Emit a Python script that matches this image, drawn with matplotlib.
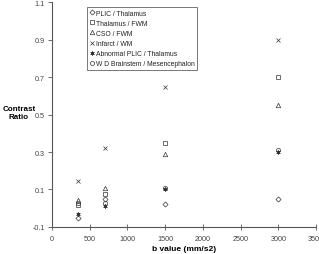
import matplotlib.pyplot as plt

b_values = [350, 700, 1500, 3000]

plic_thalamus = [-0.05, 0.05, 0.02, 0.05]
thalamus_fwm = [0.015, 0.075, 0.35, 0.70]
cso_fwm = [0.045, 0.11, 0.29, 0.55]
infarct_wm = [0.145, 0.32, 0.645, 0.90]
abnormal_plic = [-0.03, 0.01, 0.10, 0.30]
wd_brainstem = [0.03, 0.03, 0.11, 0.31]

series = [
    ("PLIC / Thalamus", plic_thalamus, "D", 2.6),
    ("Thalamus / FWM", thalamus_fwm, "s", 3.0),
    ("CSO / FWM", cso_fwm, "^", 3.2),
    ("Infarct / WM", infarct_wm, "x", 3.0),
    ("Abnormal PLIC / Thalamus", abnormal_plic, (6, 2, 0), 3.0),
    ("W D Brainstem / Mesencephalon", wd_brainstem, "o", 3.0),
]

plt.rcParams["font.family"] = ["Liberation Sans", "DejaVu Sans"]

fig = plt.figure(figsize=(3.19, 2.55), dpi=100)
ax = fig.add_axes([0.163, 0.106, 0.828, 0.882])

for label, values, marker, size in series:
    ax.plot(b_values, values, linestyle="none", marker=marker, markersize=size,
            markerfacecolor="none", markeredgecolor="#333333",
            markeredgewidth=0.5, color="#333333", label=label)

ax.set_xlim(0, 3500)
ax.set_ylim(-0.1, 1.1)
ax.set_xticks(range(0, 3501, 500))
ax.set_yticks([-0.1, 0.1, 0.3, 0.5, 0.7, 0.9, 1.1])
ax.set_yticklabels(["-0.1", "0.1", "0.3", "0.5", "0.7", "0.9", "1.1"])

for side in ("top", "right"):
    ax.spines[side].set_visible(False)
for side in ("left", "bottom"):
    ax.spines[side].set_color("#555555")
    ax.spines[side].set_linewidth(0.8)

ax.tick_params(axis="y", direction="out", length=3, width=0.6,
               colors="#555555", labelsize=5.2, labelcolor="#444444", pad=2)
ax.tick_params(axis="x", direction="inout", length=4, width=0.6,
               colors="#555555", labelsize=5.2, labelcolor="#444444", pad=4)

ax.set_xlabel("b value (mm/s2)", fontsize=6, fontweight="bold", labelpad=2)
ax.set_ylabel("Contrast\nRatio", fontsize=5.8, fontweight="bold",
              rotation=0, va="center", ha="center")
ax.yaxis.set_label_coords(-0.125, 0.51)

leg = ax.legend(loc="upper left", bbox_to_anchor=(0.133, 0.978), fontsize=4.9,
                frameon=True, fancybox=False, edgecolor="#555555",
                handlelength=0.6, handletextpad=0.3, borderpad=0.4,
                labelspacing=0.45, borderaxespad=0)
leg.get_frame().set_linewidth(0.7)
for text in leg.get_texts():
    text.set_color("#222222")

fig.savefig("out.png", dpi=100)
